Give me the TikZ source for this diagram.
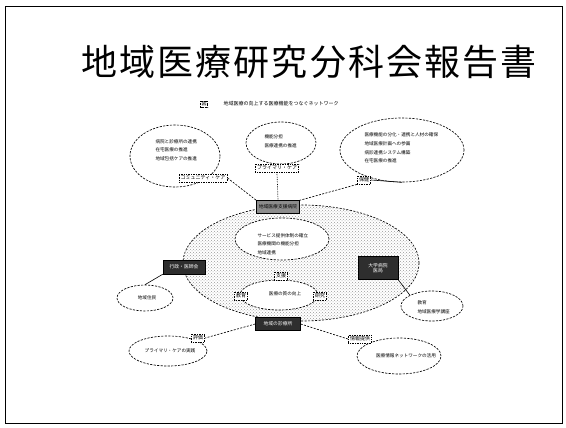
\documentclass[tikz,border=0pt]{standalone}
\usepackage{fontspec}
\newfontfamily\jp{Noto Sans CJK JP}
\newfontfamily\jptitle[LetterSpace=6]{Noto Sans CJK JP}
\usetikzlibrary{shapes.geometric,patterns}
\tikzset{
  bubble/.style={ellipse, draw, dash pattern=on 2.2pt off 1.3pt, line width=0.65pt, inner sep=0pt, fill=white},
  tag/.style={draw, densely dotted, line width=0.7pt, fill=white, inner sep=1.8pt, font=\jp\fontsize{5}{5}\selectfont},
  darkbox/.style={draw, fill=black!82, text=white, inner sep=1.8pt, font=\jp\fontsize{4.8}{5.6}\selectfont, align=center},
  hubbox/.style={draw, fill=black!45, inner sep=1.8pt, font=\jp\fontsize{4.8}{5.6}\selectfont},
  small/.style={font=\jp\fontsize{4.6}{8.6}\selectfont, align=left},
  link/.style={dash pattern=on 2pt off 1.4pt, line width=0.65pt},
  solidlink/.style={line width=0.6pt}
}
\begin{document}
\begin{tikzpicture}[x=1pt,y=-1pt]
\useasboundingbox (0,0) rectangle (566,428);
\draw[line width=0.9pt] (5,6) rectangle (562,423);

% title
\node (title) at (309,62) {\jptitle\fontsize{36}{36}\selectfont 地域医療研究分科会報告書};

% caption
\node[draw, densely dotted, inner sep=1pt, font=\jp\fontsize{5}{5}\selectfont] (figlab) at (204,104) {図};
\node[anchor=west, font=\jp\fontsize{5}{5}\selectfont] (cap) at (220,104) {地域医療の向上する医療機能をつなぐネットワーク};

% big central ellipse
\node[ellipse, draw, dash pattern=on 2pt off 1.5pt, line width=0.65pt, pattern=crosshatch dots, pattern color=black!40, minimum width=236pt, minimum height=116pt] (big) at (301,263) {};

% inner ellipses
\node[bubble, minimum width=94pt, minimum height=42pt] (inup) at (282,239) {};
\node[small, anchor=west] (inuptxt) at (254,244) {サービス提供体制の確立\\医療機関の機能分担\\地域連携};
\node[bubble, minimum width=78pt, minimum height=30pt] (inlow) at (279,295) {};
\node[small] (inlowtxt) at (285,294) {医療の質の向上};
\node[tag] (sup) at (281,276) {支援};
\node[tag] (edu) at (241,296) {教育};
\node[tag] (res) at (320,296) {研究};

% hub boxes
\node[hubbox, minimum width=43pt, minimum height=13pt] (hub) at (278,207) {地域医療支援病院};
\node[darkbox, minimum width=42pt, minimum height=14pt] (ldark) at (184,267) {行政・医師会};
\node[darkbox, minimum width=40pt, minimum height=23pt] (rdark) at (378,268) {大学病院\\医局};
\node[darkbox, minimum width=45pt, minimum height=13pt] (bdark) at (278,324) {地域の診療所};

% top-left
\node[bubble, minimum width=90pt, minimum height=62pt] (tl) at (175,156) {};
\node[small, anchor=west] (tltxt) at (152,150) {病院と診療所の連携\\在宅医療の推進\\地域包括ケアの推進};
\node[tag] (tltag) at (203,178) {コミュニティ・ケア};

% top-middle
\node[bubble, minimum width=70pt, minimum height=42pt] (tm) at (281,143) {};
\node[small, anchor=west] (tmtxt) at (261,141) {機能分担\\医療連携の推進};
\node[tag] (tmtag) at (277,168) {プライマリ・ケア};

% top-right
\node[bubble, minimum width=124pt, minimum height=64pt] (tr) at (402,150) {};
\node[small, anchor=west] (trtxt) at (361,148) {医療機能の分化・連携と人材の確保\\地域医療計画への参画\\病診連携システム構築\\在宅医療の推進};
\node[tag] (trtag) at (364,180) {保健};

% left small
\node[bubble, minimum width=56pt, minimum height=26pt] (lsm) at (145,298) {};
\node[small] (lsmtxt) at (147,298) {地域住民};

% right small
\node[bubble, minimum width=62pt, minimum height=30pt] (rsm) at (432,306) {};
\node[small, anchor=west] (rsmtxt) at (414,307) {教育\\地域医療学講座};

% bottom-left
\node[bubble, minimum width=78pt, minimum height=30pt] (bl) at (168,351) {};
\node[small] (bltxt) at (170,351) {プライマリ・ケアの実践};
\node[tag] (bltag) at (198,338) {評価};

% bottom-right
\node[bubble, minimum width=84pt, minimum height=36pt] (br) at (399,356) {};
\node[small] (brtxt) at (406,356) {医療情報ネットワークの活用};
\node[tag] (brtag) at (360,339) {情報提供};

% connectors
\draw[link] (tltag.east) -- (hub.north west);
\draw[densely dotted, line width=0.7pt] (tmtag.south) -- (hub.north);
\draw[link] (trtag.south west) -- (hub.north east);
\draw[solidlink] (trtag.east) -- (tr.south);
\draw[solidlink] (ldark.south west) -- (lsm.north);
\draw[solidlink] (rdark.south east) -- (rsm.north west);
\draw[link] (bdark.west) -- (bltag.east);
\draw[link] (bdark.east) -- (brtag.west);
\end{tikzpicture}
\end{document}
